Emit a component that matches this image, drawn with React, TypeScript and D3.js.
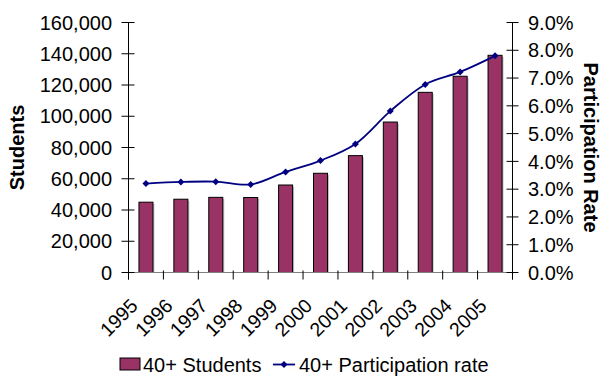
import React from "react";
import * as d3 from "d3";

const years = ["1995", "1996", "1997", "1998", "1999", "2000", "2001", "2002", "2003", "2004", "2005"];
const students = [45000, 46900, 48100, 48000, 56000, 63500, 74800, 96300, 115300, 125600, 139000];
const participation = [0.032, 0.0326, 0.0327, 0.0317, 0.0362, 0.0403, 0.0463, 0.0581, 0.0677, 0.0722, 0.078];
const studentTicks = [0, 20000, 40000, 60000, 80000, 100000, 120000, 140000, 160000];
const rateTicks = [0, 0.01, 0.02, 0.03, 0.04, 0.05, 0.06, 0.07, 0.08, 0.09];

const W = 602;
const H = 376;
const left = 128.5;
const right = 512.5;
const top = 22.5;
const bottom = 272.5;
const FONT = "'Liberation Sans', Arial, Helvetica, sans-serif";
const BAR = "#993366";
const LINE = "#000080";

export default function App() {
  const x = d3.scaleBand<string>().domain(years).range([left, right]).paddingInner(0).paddingOuter(0);
  const yL = d3.scaleLinear().domain([0, 160000]).range([bottom, top]);
  const yR = d3.scaleLinear().domain([0, 0.09]).range([bottom, top]);
  const barW = 14;
  const fmtL = d3.format(",");
  const fmtR = d3.format(".1%");

  const pts: [number, number][] = years.map((y, i) => [x(y)! + x.bandwidth() / 2, yR(participation[i])]);
  const linePath = d3.line().curve(d3.curveCatmullRom.alpha(0.5))(pts) || "";
  const diamond = (cx: number, cy: number, r = 3.5) =>
    `M${cx},${cy - r}L${cx + r},${cy}L${cx},${cy + r}L${cx - r},${cy}Z`;

  const boundaries = d3.range(years.length + 1).map((i) => left + i * x.bandwidth());
  const legendY = 364.5;

  return (
    <svg width={W} height={H} style={{ position: "absolute", left: 0, top: 0, background: "#fff" }} fontFamily={FONT}>
      {/* bars */}
      {years.map((y, i) => (
        <g key={y}>
          <rect
            x={x(y)! + (x.bandwidth() - barW) / 2 + 1.5}
            y={yL(students[i]) + 1.5}
            width={barW}
            height={bottom - yL(students[i]) - 1.5}
            fill="#9a9a9a"
            opacity={0.6}
          />
          <rect
            x={x(y)! + (x.bandwidth() - barW) / 2}
            y={yL(students[i])}
            width={barW}
            height={bottom - yL(students[i])}
            fill={BAR}
            stroke="#000"
            strokeWidth={1}
          />
        </g>
      ))}

      {/* horizontal axis */}
      <line x1={left} x2={right} y1={bottom} y2={bottom} stroke="#808080" strokeWidth={1} />
      {boundaries.map((bx, i) => (
        <line key={i} x1={bx} x2={bx} y1={bottom - 2} y2={bottom + 7} stroke="#000" strokeWidth={1} />
      ))}
      {years.map((y) => {
        const cx = x(y)! + x.bandwidth() / 2 - 7;
        const cy = 307;
        return (
          <text key={y} x={cx} y={cy} transform={`rotate(-45 ${cx} ${cy})`} textAnchor="end" fontSize={19.5} fill="#000">
            {y}
          </text>
        );
      })}

      {/* left axis */}
      <line x1={left} x2={left} y1={top} y2={bottom + 7} stroke="#000" strokeWidth={1} />
      {studentTicks.map((t) => (
        <g key={t}>
          <line x1={left - 7} x2={left + 6} y1={yL(t)} y2={yL(t)} stroke="#000" strokeWidth={1} />
          <text x={112} y={yL(t)} dy="0.36em" textAnchor="end" fontSize={20} fill="#000">
            {fmtL(t)}
          </text>
        </g>
      ))}

      {/* right axis */}
      <line x1={right} x2={right} y1={top} y2={bottom + 7} stroke="#000" strokeWidth={1} />
      {rateTicks.map((t) => (
        <g key={t}>
          <line x1={right - 6} x2={right + 6} y1={yR(t)} y2={yR(t)} stroke="#000" strokeWidth={1} />
          <text x={528} y={yR(t)} dy="0.36em" textAnchor="start" fontSize={20} fill="#000">
            {fmtR(t)}
          </text>
        </g>
      ))}

      {/* participation line */}
      <path d={linePath} fill="none" stroke={LINE} strokeWidth={1.8} />
      {pts.map(([px, py], i) => (
        <path key={i} d={diamond(px, py)} fill={LINE} />
      ))}

      {/* axis titles */}
      <text x={17} y={147.5} transform="rotate(-90 17 147.5)" textAnchor="middle" dy="0.36em" fontSize={20} fontWeight="bold">
        Students
      </text>
      <text x={591.5} y={147.5} transform="rotate(90 591.5 147.5)" textAnchor="middle" dy="0.36em" fontSize={20} fontWeight="bold">
        Participation Rate
      </text>

      {/* legend */}
      <rect x={120} y={legendY - 6.5} width={20} height={12} fill={BAR} stroke="#000" strokeWidth={1} />
      <text x={143} y={legendY} dy="0.36em" fontSize={20}>40+ Students</text>
      <line x1={273} x2={295} y1={legendY} y2={legendY} stroke={LINE} strokeWidth={1.8} />
      <path d={diamond(284, legendY)} fill={LINE} />
      <text x={299} y={legendY} dy="0.36em" fontSize={20}>40+ Participation rate</text>
    </svg>
  );
}
